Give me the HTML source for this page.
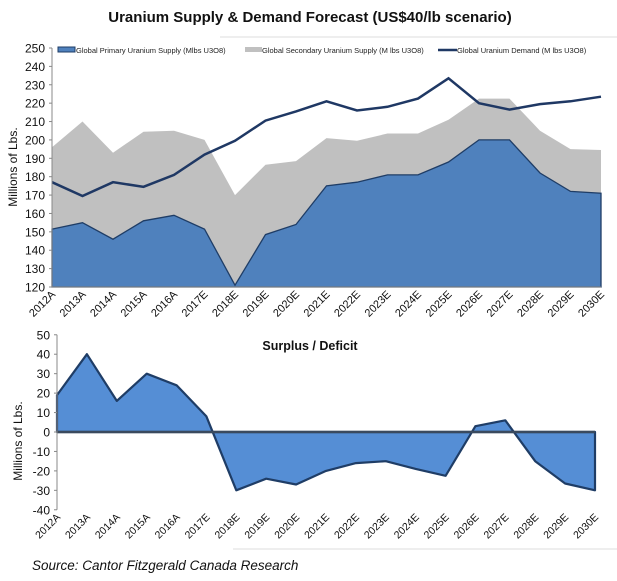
<!DOCTYPE html>
<html><head><meta charset="utf-8"><style>
body{margin:0;background:#fff;width:617px;height:576px;overflow:hidden;font-family:"Liberation Sans",sans-serif}
text{font-family:"Liberation Sans",sans-serif}
</style></head><body>
<svg id="c" width="617" height="576" xmlns="http://www.w3.org/2000/svg">
<text x="310" y="22" text-anchor="middle" font-size="15" font-weight="bold" fill="#111">Uranium Supply &amp; Demand Forecast (US$40/lb scenario)</text>
<line x1="220" y1="37" x2="617" y2="37" stroke="#ddd"/>
<g id="topc"></g><g id="botc"></g>
<text x="310" y="350" text-anchor="middle" font-size="12.5" font-weight="bold" fill="#111">Surplus / Deficit</text>
<line x1="233" y1="549" x2="617" y2="549" stroke="#ddd"/>
<text x="32" y="570" font-size="13.5" font-style="italic" fill="#111">Source: Cantor Fitzgerald Canada Research</text>
</svg>
<script>
const categories=["2012A","2013A","2014A","2015A","2016A","2017E","2018E","2019E","2020E","2021E","2022E","2023E","2024E","2025E","2026E","2027E","2028E","2029E","2030E"];
const primarySupply=[151.5,155,146,156,159,151.5,121,148.5,154,175,177,181,181,188,200,200,182,172,171];
const totalSupply=[196,210,193,204.5,205,200,170,186.5,188.5,201,199.5,203.5,203.5,211,222.5,222.5,205,195,194.5];
const demand=[177,169.5,177,174.5,181,192,199.5,210.5,215.5,221,216,218,222.5,233.5,220,216.5,219.5,221,223.5];
const surplus=[19,40,16,30,24,8,-30,-24,-27,-20,-16,-15,-19,-22.5,3,6,-15,-26.5,-30];
const topTicks=[120,130,140,150,160,170,180,190,200,210,220,230,240,250];
const botTicks=[-40,-30,-20,-10,0,10,20,30,40,50];
const NS="http://www.w3.org/2000/svg";
function mk(p,t,a){const e=document.createElementNS(NS,t);for(const k in a)e.setAttribute(k,a[k]);p.appendChild(e);return e;}
const topG=document.getElementById('topc');
const tx=i=>52+i*(549/18), ty=v=>287-(v-120)*(239/130);
const pts=(arr,fx,fy)=>arr.map((v,i)=>fx(i).toFixed(1)+','+fy(v).toFixed(1)).join(' ');
let g=mk(topG,'polygon',{points:tx(0)+','+ty(120)+' '+pts(totalSupply,tx,ty)+' '+tx(18)+','+ty(120),fill:'#c0c0c0'});

g=mk(topG,'polygon',{points:tx(0)+','+ty(120)+' '+pts(primarySupply,tx,ty)+' '+tx(18)+','+ty(120),fill:'#4f81bd',stroke:'#1f3d66','stroke-width':1.3});

g=mk(topG,'polyline',{points:pts(demand,tx,ty),fill:'none',stroke:'#1f3864','stroke-width':2.5});

mk(topG,'line',{x1:52,y1:ty(250),x2:52,y2:ty(120),stroke:'#888'});
mk(topG,'line',{x1:52,y1:ty(120),x2:tx(18),y2:ty(120),stroke:'#888'});
topTicks.forEach(v=>{const t=mk(topG,'text',{x:45,y:ty(v)+4.5,'text-anchor':'end','font-size':12,fill:'#111'});t.textContent=v;
mk(topG,'line',{x1:49,x2:52,y1:ty(v),y2:ty(v),stroke:'#888'});});
categories.forEach((c,i)=>{const t=mk(topG,'text',{x:tx(i)+4,y:ty(120)+8,'text-anchor':'end','font-size':11,fill:'#111',transform:`rotate(-45 ${tx(i)+4} ${ty(120)+8})`});t.textContent=c;
});
let yt=mk(topG,'text',{x:17,y:167,'text-anchor':'middle','font-size':12,fill:'#111',transform:'rotate(-90 17 167)'});yt.textContent='Millions of Lbs.';

const lg=mk(topG,'g',{});
mk(lg,'rect',{x:58,y:47,width:17,height:5,fill:'#4f81bd',stroke:'#1f3d66'});
let l=mk(lg,'text',{x:76,y:53,'font-size':7.5,fill:'#222'});l.textContent='Global Primary Uranium Supply (Mlbs U3O8)';
mk(lg,'rect',{x:245,y:47,width:17,height:5,fill:'#c0c0c0'});
l=mk(lg,'text',{x:262,y:53,'font-size':7.5,fill:'#222'});l.textContent='Global Secondary Uranium Supply (M lbs U3O8)';
mk(lg,'line',{x1:438,y1:50,x2:457,y2:50,stroke:'#1f3864','stroke-width':2.5});
l=mk(lg,'text',{x:457,y:53,'font-size':7.5,fill:'#222'});l.textContent='Global Uranium Demand (M lbs U3O8)';
const botG=document.getElementById('botc');
const bx=i=>57+i*(538/18), by=v=>432-v*(175/90);
g=mk(botG,'polygon',{points:bx(0)+','+by(0)+' '+pts(surplus,bx,by)+' '+bx(18)+','+by(0),fill:'#558ed5',stroke:'#1f3d66','stroke-width':2.2,'stroke-linejoin':'round'});

mk(botG,'line',{x1:57,y1:by(0),x2:bx(18),y2:by(0),stroke:'#3a4a5e','stroke-width':2.5});
mk(botG,'line',{x1:57,y1:by(50),x2:57,y2:by(-40),stroke:'#888'});
botTicks.forEach(v=>{const t=mk(botG,'text',{x:50,y:by(v)+4.5,'text-anchor':'end','font-size':12,fill:'#111'});t.textContent=v;
mk(botG,'line',{x1:54,x2:57,y1:by(v),y2:by(v),stroke:'#888'});});
categories.forEach((c,i)=>{const yy=by(-40)+8;const t=mk(botG,'text',{x:bx(i)+4,y:yy,'text-anchor':'end','font-size':10.5,fill:'#111',transform:`rotate(-45 ${bx(i)+4} ${yy})`});t.textContent=c;
});
yt=mk(botG,'text',{x:22,y:441,'text-anchor':'middle','font-size':12,fill:'#111',transform:'rotate(-90 22 441)'});yt.textContent='Millions of Lbs.';

</script>
</body></html>
